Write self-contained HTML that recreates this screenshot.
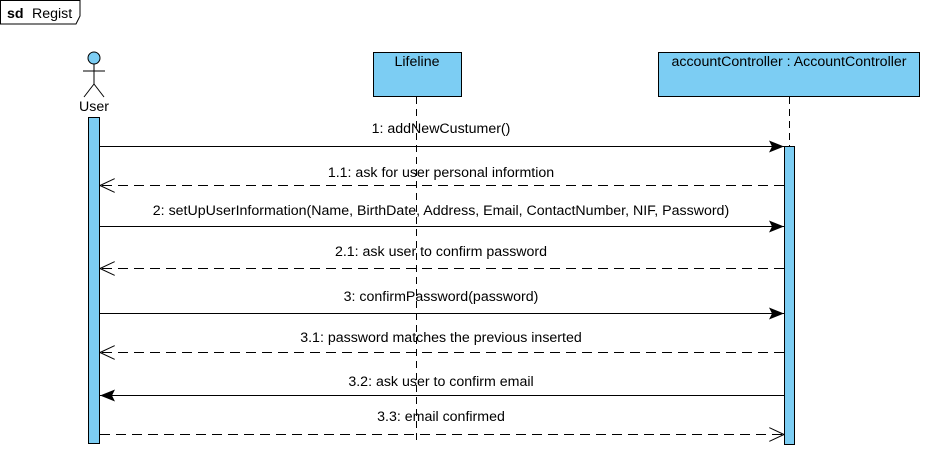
<!DOCTYPE html>
<html><head><meta charset="utf-8"><style>
html,body{margin:0;padding:0;background:#fff;}
svg{display:block;}
text{font-family:"Liberation Sans",Arial,sans-serif;font-size:14.2px;fill:#000;}
</style></head><body>
<svg width="927" height="461" viewBox="0 0 927 461" xmlns="http://www.w3.org/2000/svg">
<defs>
<marker id="f" markerWidth="16" markerHeight="12" refX="15" refY="6" orient="auto" markerUnits="userSpaceOnUse"><path d="M0,0 L15,6 L0,12 L3,6 Z" fill="#000"/></marker>
<marker id="o" markerWidth="16" markerHeight="14" refX="15" refY="7" orient="auto" markerUnits="userSpaceOnUse"><path d="M0,0 L15,7 L0,14" fill="none" stroke="#000" stroke-width="1"/></marker>
</defs>
<path d="M0.5,0.5 H80 V16 L76,24 H0.5 Z" fill="#fff" stroke="#000"/>
<text x="7" y="18" font-weight="bold">sd</text>
<text x="32" y="18">Regist</text>
<circle cx="94" cy="58" r="6" fill="#7ccdf3" stroke="#000"/>
<line x1="94" y1="64" x2="94" y2="84" stroke="#000"/>
<line x1="83" y1="71" x2="105" y2="71" stroke="#000"/>
<line x1="94" y1="84" x2="84" y2="97" stroke="#000"/>
<line x1="94" y1="84" x2="104" y2="97" stroke="#000"/>
<text x="94" y="111" text-anchor="middle">User</text>
<rect x="373.5" y="52.5" width="88" height="44" fill="#7ccdf3" stroke="#000"/>
<text x="417" y="66" text-anchor="middle">Lifeline</text>
<line x1="416.5" y1="97" x2="416.5" y2="445" stroke="#000" stroke-dasharray="7,5"/>
<rect x="658.5" y="52.5" width="261" height="44" fill="#7ccdf3" stroke="#000"/>
<text x="789" y="66" text-anchor="middle">accountController : AccountController</text>
<line x1="789.5" y1="97" x2="789.5" y2="146" stroke="#000" stroke-dasharray="7,5"/>
<rect x="88.5" y="117.5" width="11" height="326" fill="#7ccdf3" stroke="#000"/>
<rect x="784.5" y="146.5" width="10" height="298" fill="#7ccdf3" stroke="#000"/>
<g stroke="#000" stroke-width="1">
<line x1="100" y1="146.5" x2="784" y2="146.5" marker-end="url(#f)"/>
<line x1="784" y1="185.5" x2="100" y2="185.5" stroke-dasharray="10,6" marker-end="url(#o)"/>
<line x1="100" y1="226.5" x2="784" y2="226.5" marker-end="url(#f)"/>
<line x1="784" y1="268.5" x2="100" y2="268.5" stroke-dasharray="10,6" marker-end="url(#o)"/>
<line x1="100" y1="313.5" x2="784" y2="313.5" marker-end="url(#f)"/>
<line x1="784" y1="352.5" x2="100" y2="352.5" stroke-dasharray="10,6" marker-end="url(#o)"/>
<line x1="784" y1="395.5" x2="100" y2="395.5" marker-end="url(#f)"/>
<line x1="100" y1="434.5" x2="784" y2="434.5" stroke-dasharray="10,6" marker-end="url(#o)"/>
</g>
<g text-anchor="middle">
<text x="441" y="133">1: addNewCustumer()</text>
<text x="441" y="177">1.1: ask for user personal informtion</text>
<text x="441" y="215">2: setUpUserInformation(Name, BirthDate, Address, Email, ContactNumber, NIF, Password)</text>
<text x="441" y="256">2.1: ask user to confirm password</text>
<text x="441" y="301">3: confirmPassword(password)</text>
<text x="441" y="342">3.1: password matches the previous inserted</text>
<text x="441" y="386">3.2: ask user to confirm email</text>
<text x="441" y="421">3.3: email confirmed</text>
</g>
</svg>
</body></html>
